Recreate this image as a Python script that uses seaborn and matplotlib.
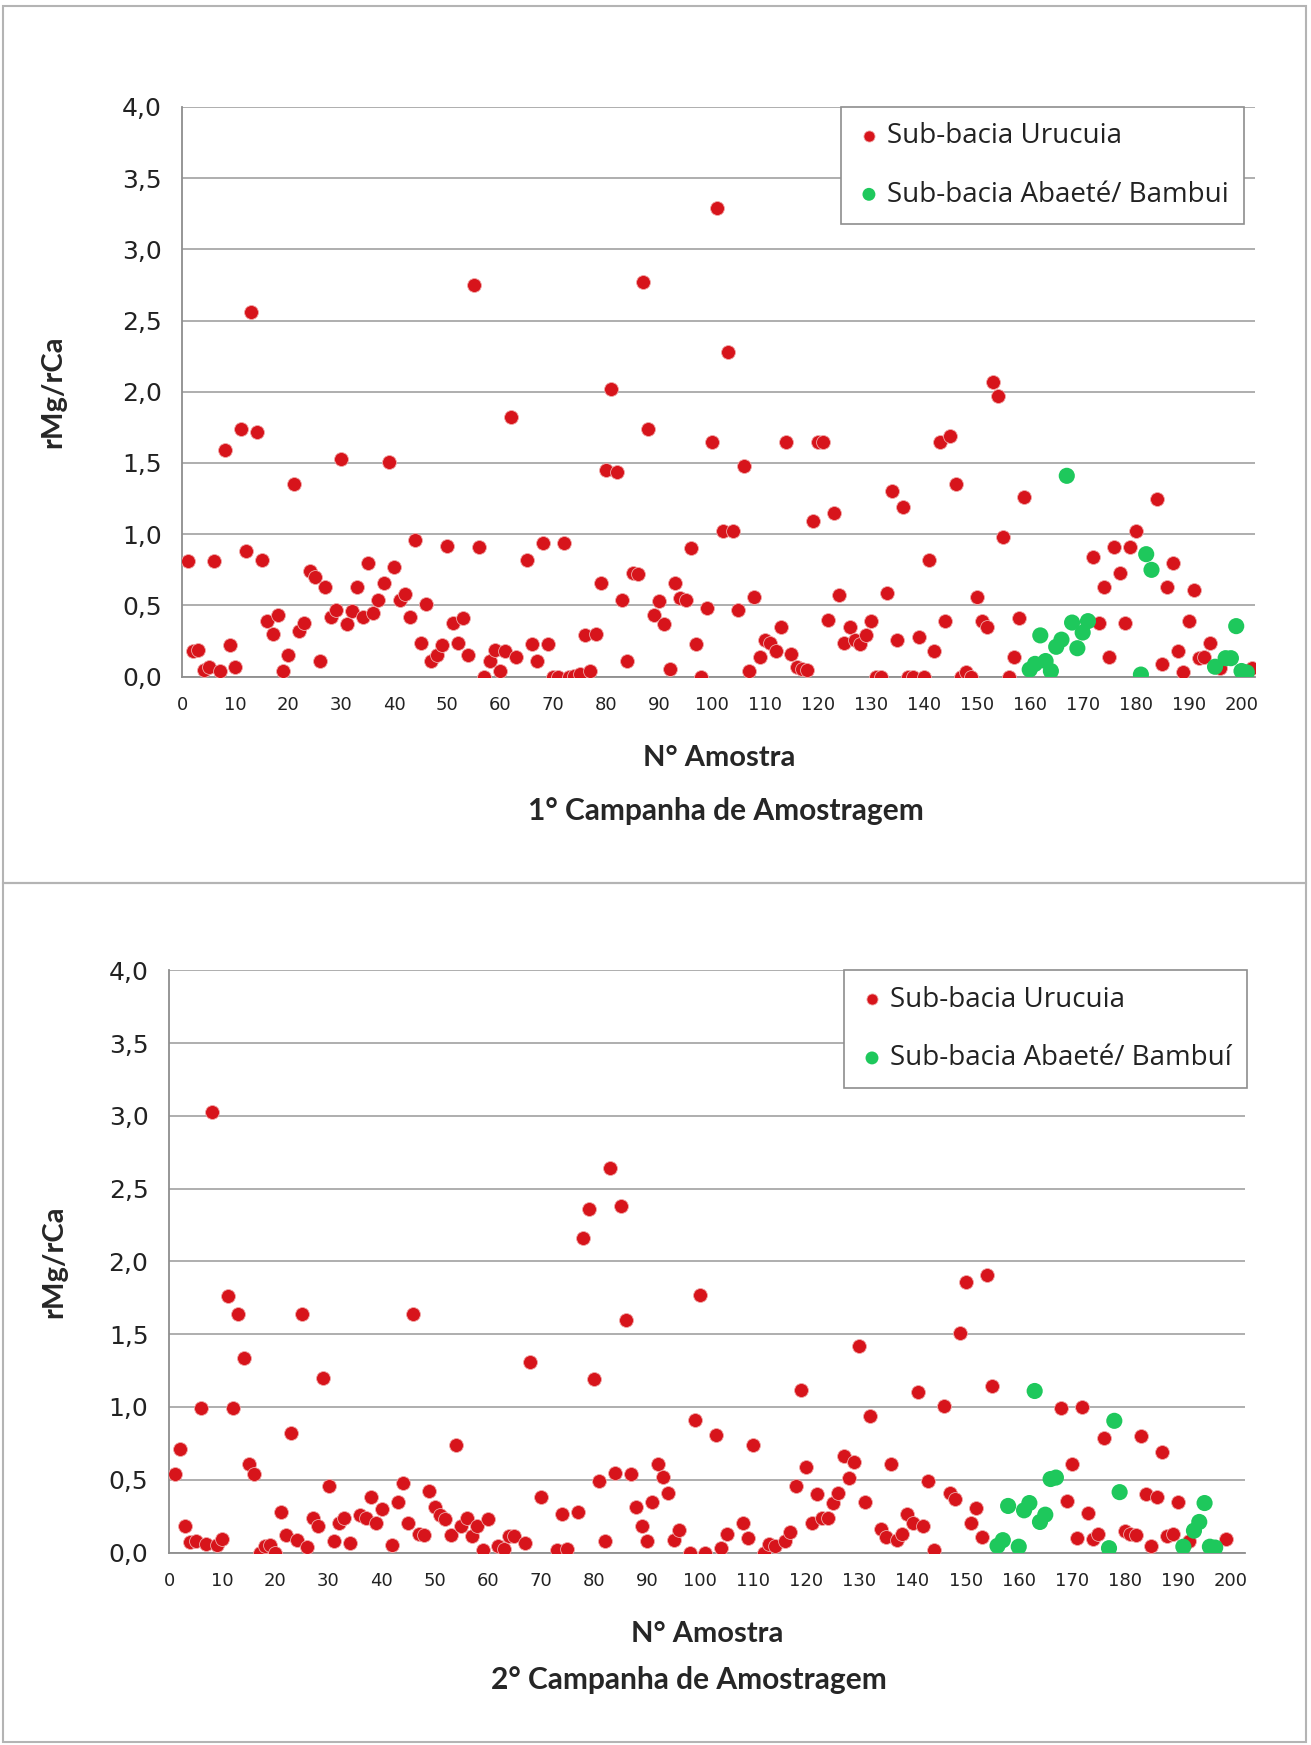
import numpy as np
import pandas as pd
import matplotlib
matplotlib.use("Agg")
import matplotlib.pyplot as plt
from matplotlib.ticker import MultipleLocator, FuncFormatter
import seaborn as sns

# ---- 1a campanha ----
urucuia1_x = [1, 2, 3, 4, 5, 6, 7, 8, 9, 10, 11, 12, 13, 14, 15, 16, 17, 18, 19, 20,
              21, 22, 23, 24, 25, 26, 27, 28, 29, 30, 31, 32, 33, 34, 35, 36, 37, 38, 39, 40,
              41, 42, 43, 44, 45, 46, 47, 48, 49, 50, 51, 52, 53, 54, 55, 56, 57, 58, 59, 60,
              61, 62, 63, 65, 66, 67, 68, 69, 70, 71, 72, 73, 74, 75, 76, 77, 78, 79, 80,
              81, 82, 83, 84, 85, 86, 87, 88, 89, 90, 91, 92, 93, 94, 95, 96, 97, 98, 99, 100,
              101, 102, 103, 104, 105, 106, 107, 108, 109, 110, 111, 112, 113, 114, 115, 116, 117, 118, 119, 120,
              121, 122, 123, 124, 125, 126, 127, 128, 129, 130, 131, 132, 133, 134, 135, 136, 137, 138, 139, 140,
              141, 142, 143, 144, 145, 146, 147, 148, 149, 150, 151, 152, 153, 154, 155, 156, 157, 158, 159,
              172, 173, 174, 175, 176, 177, 178, 179, 180, 184, 185, 186, 187, 188, 189, 190,
              191, 192, 193, 194, 196, 202]
urucuia1_y = [0.81, 0.18, 0.19, 0.05, 0.07, 0.81, 0.04, 1.59, 0.22, 0.07, 1.74, 0.88, 2.56, 1.72, 0.82, 0.39, 0.30, 0.43, 0.04, 0.15,
              1.35, 0.32, 0.38, 0.74, 0.70, 0.11, 0.63, 0.42, 0.47, 1.53, 0.37, 0.46, 0.63, 0.42, 0.80, 0.45, 0.54, 0.66, 1.51, 0.77,
              0.54, 0.58, 0.42, 0.96, 0.24, 0.51, 0.11, 0.15, 0.22, 0.92, 0.38, 0.24, 0.41, 0.15, 2.75, 0.91, 0.00, 0.11, 0.19, 0.04,
              0.18, 1.82, 0.14, 0.82, 0.23, 0.11, 0.94, 0.23, 0.00, 0.00, 0.94, 0.00, 0.005, 0.02, 0.29, 0.04, 0.30, 0.66, 1.45,
              2.02, 1.44, 0.54, 0.11, 0.73, 0.72, 2.77, 1.74, 0.43, 0.53, 0.37, 0.055, 0.66, 0.55, 0.54, 0.90, 0.23, 0.00, 0.48, 1.65,
              3.29, 1.02, 2.28, 1.02, 0.47, 1.48, 0.04, 0.56, 0.14, 0.26, 0.24, 0.18, 0.35, 1.65, 0.16, 0.065, 0.055, 0.044, 1.09, 1.65,
              1.65, 0.40, 1.15, 0.57, 0.24, 0.35, 0.26, 0.23, 0.29, 0.39, 0.00, 0.00, 0.59, 1.30, 0.26, 1.19, 0.00, 0.00, 0.28, 0.00,
              0.82, 0.18, 1.65, 0.39, 1.69, 1.35, 0.00, 0.03, 0.00, 0.56, 0.39, 0.35, 2.07, 1.97, 0.98, 0.00, 0.14, 0.41, 1.26,
              0.84, 0.38, 0.63, 0.14, 0.91, 0.73, 0.38, 0.91, 1.02, 1.25, 0.09, 0.63, 0.80, 0.18, 0.03, 0.39,
              0.61, 0.13, 0.14, 0.24, 0.06, 0.06]
abaete1_x = [160, 161, 162, 163, 164, 165, 166, 167, 168, 169, 170, 171, 181, 182, 183,
             195, 197, 198, 199, 200, 201]
abaete1_y = [0.05, 0.09, 0.29, 0.11, 0.04, 0.21, 0.26, 1.41, 0.38, 0.20, 0.31, 0.39, 0.015, 0.86, 0.75,
             0.07, 0.13, 0.13, 0.355, 0.04, 0.03]

# ---- 2a campanha ----
urucuia2_x = [1, 2, 3, 4, 5, 6, 7, 8, 9, 10, 11, 12, 13, 14, 15, 16, 17, 18, 19, 20,
              21, 22, 23, 24, 25, 26, 27, 28, 29, 30, 31, 32, 33, 34, 36, 37, 38, 39, 40,
              42, 43, 44, 45, 46, 47, 48, 49, 50, 51, 52, 53, 54, 55, 56, 57, 58, 59, 60,
              62, 63, 64, 65, 67, 68, 70, 73, 74, 75, 77, 78, 79, 80,
              81, 82, 83, 84, 85, 86, 87, 88, 89, 90, 91, 92, 93, 94, 95, 96, 98, 99, 100,
              101, 103, 104, 105, 108, 109, 110, 112, 113, 114, 116, 117, 118, 119, 120,
              121, 122, 123, 124, 125, 126, 127, 128, 129, 130, 131, 132, 134, 135, 136, 137, 138, 139, 140,
              141, 142, 143, 144, 146, 147, 148, 149, 150, 151, 152, 153, 154, 155,
              168, 169, 170, 171, 172, 173, 174, 175, 176, 180, 181, 182, 183, 184, 185, 186, 187, 188, 189, 190,
              192, 199]
urucuia2_y = [0.54, 0.71, 0.18, 0.07, 0.08, 0.99, 0.06, 3.03, 0.05, 0.09, 1.76, 0.99, 1.64, 1.34, 0.61, 0.54, 0.00, 0.046, 0.05, 0.00,
              0.28, 0.12, 0.82, 0.087, 1.64, 0.04, 0.24, 0.18, 1.20, 0.455, 0.08, 0.20, 0.24, 0.065, 0.26, 0.24, 0.38, 0.20, 0.30,
              0.05, 0.35, 0.48, 0.20, 1.64, 0.13, 0.12, 0.42, 0.31, 0.26, 0.23, 0.12, 0.74, 0.18, 0.24, 0.115, 0.18, 0.02, 0.23,
              0.046, 0.027, 0.115, 0.115, 0.065, 1.31, 0.38, 0.02, 0.265, 0.027, 0.28, 2.16, 2.36, 1.19,
              0.49, 0.08, 2.64, 0.545, 2.38, 1.60, 0.54, 0.31, 0.18, 0.08, 0.35, 0.61, 0.52, 0.41, 0.087, 0.155, 0.00, 0.91, 1.77,
              0.00, 0.81, 0.03, 0.13, 0.20, 0.10, 0.74, 0.00, 0.06, 0.046, 0.08, 0.14, 0.455, 1.12, 0.585,
              0.20, 0.40, 0.24, 0.24, 0.34, 0.41, 0.665, 0.515, 0.62, 1.42, 0.35, 0.94, 0.16, 0.106, 0.605, 0.087, 0.128, 0.265, 0.20,
              1.10, 0.18, 0.49, 0.02, 1.01, 0.41, 0.365, 1.505, 1.86, 0.20, 0.305, 0.11, 1.91, 1.145,
              0.99, 0.355, 0.61, 0.10, 1.00, 0.275, 0.09, 0.13, 0.79, 0.15, 0.13, 0.12, 0.80, 0.40, 0.046, 0.38, 0.69, 0.115, 0.126, 0.35,
              0.08, 0.09]
abaete2_x = [156, 157, 158, 160, 161, 162, 163, 164, 165, 166, 167, 177, 178, 179,
             191, 193, 194, 195, 196, 197]
abaete2_y = [0.046, 0.085, 0.32, 0.04, 0.29, 0.34, 1.11, 0.21, 0.26, 0.505, 0.515, 0.03, 0.905, 0.415,
             0.04, 0.15, 0.21, 0.34, 0.04, 0.034]

x_ticks = list(range(0, 201, 10))
y_ticks = [0.0, 0.5, 1.0, 1.5, 2.0, 2.5, 3.0, 3.5, 4.0]

RED = '#d7141b'
GREEN = '#1ec85c'
GRID = '#a8a8a8'
AXIS = '#8e8e8e'
TICK_FONT = 'DejaVu Sans'
LABEL_FONT = 'Lato'
LEGEND_FONT = 'Open Sans'

sns.set_style("white")


def draw_panel(ax, ux, uy, gx, gy, green_label, ylab_x, legend_anchor):
    df_u = pd.DataFrame({'amostra': ux, 'razao': uy})
    df_g = pd.DataFrame({'amostra': gx, 'razao': gy})
    sns.scatterplot(data=df_u, x='amostra', y='razao', ax=ax, color=RED, s=100,
                    edgecolor='#f0a8a8', linewidth=0.6, label='Sub-bacia Urucuia', zorder=3)
    sns.scatterplot(data=df_g, x='amostra', y='razao', ax=ax, color=GREEN, s=135,
                    edgecolor='none', linewidth=0, label=green_label, zorder=4)

    ax.set_xlim(0, 202.6)
    ax.set_ylim(0, 4.0)
    ax.set_xticks(x_ticks)
    ax.xaxis.set_minor_locator(MultipleLocator(1))
    ax.set_yticks(y_ticks)
    ax.yaxis.set_major_formatter(FuncFormatter(lambda v, p: ('%.1f' % v).replace('.', ',')))

    ax.yaxis.grid(True, color=GRID, lw=1.3)
    ax.xaxis.grid(False)
    ax.set_axisbelow(True)
    for sp in ['top', 'right']:
        ax.spines[sp].set_visible(False)
    for sp in ['left', 'bottom']:
        ax.spines[sp].set_color(AXIS)
        ax.spines[sp].set_linewidth(1.3)

    ax.tick_params(axis='x', which='major', length=6, width=1.1, color=AXIS, direction='out',
                   pad=8, labelsize=13, labelcolor='#222222')
    ax.tick_params(axis='x', which='minor', length=3.5, width=0.9, color=AXIS, direction='out')
    ax.tick_params(axis='y', which='major', length=6, width=1.1, color=AXIS, direction='out',
                   pad=9, labelsize=18, labelcolor='#222222')
    for lbl in ax.get_xticklabels() + ax.get_yticklabels():
        lbl.set_fontfamily(TICK_FONT)

    ax.set_ylabel('rMg/rCa', fontsize=21, fontweight='bold', family=LABEL_FONT)
    ax.yaxis.set_label_coords(ylab_x, 0.5)
    ax.set_xlabel('N° Amostra', fontsize=21, fontweight='bold', family=LABEL_FONT, labelpad=22)

    leg = ax.legend(loc='upper right', bbox_to_anchor=legend_anchor, borderaxespad=0,
                    frameon=True, fancybox=False, framealpha=1, edgecolor=AXIS,
                    prop={'family': LEGEND_FONT, 'size': 20}, handletextpad=0.2,
                    handlelength=0.9, labelspacing=1.1, borderpad=0.55, markerscale=0.8)
    leg.get_frame().set_linewidth(1.2)
    for t in leg.get_texts():
        t.set_color('#222222')
    return ax


fig = plt.figure(figsize=(13.11, 17.45), dpi=100)
fig.patch.set_facecolor('white')

ax1 = fig.add_axes([0.1392, 0.6122, 0.8183, 0.3266])
ax2 = fig.add_axes([0.1291, 0.1103, 0.8205, 0.3336])

draw_panel(ax1, urucuia1_x, urucuia1_y, abaete1_x, abaete1_y,
           'Sub-bacia Abaeté/ Bambui', -0.108, (0.9895, 1.0))
draw_panel(ax2, urucuia2_x, urucuia2_y, abaete2_x, abaete2_y,
           'Sub-bacia Abaeté/ Bambuí', -0.095, (1.002, 1.0))

fig.text(726 / 1311, 1 - 811 / 1745, '1° Campanha de Amostragem', ha='center', va='center',
         fontsize=21.5, fontweight='bold', family=LABEL_FONT)
fig.text(689 / 1311, 1 - 1680 / 1745, '2° Campanha de Amostragem', ha='center', va='center',
         fontsize=21.5, fontweight='bold', family=LABEL_FONT)

# moldura das duas células
for y0, y1 in [(1 - 883 / 1745, 1 - 6 / 1745), (3 / 1745, 1 - 883 / 1745)]:
    fig.add_artist(plt.Rectangle((3 / 1311, y0), 1303 / 1311, y1 - y0, transform=fig.transFigure,
                                 fill=False, edgecolor='#b4b4b4', linewidth=1.5))

fig.savefig('out.png', dpi=100, facecolor='white')
